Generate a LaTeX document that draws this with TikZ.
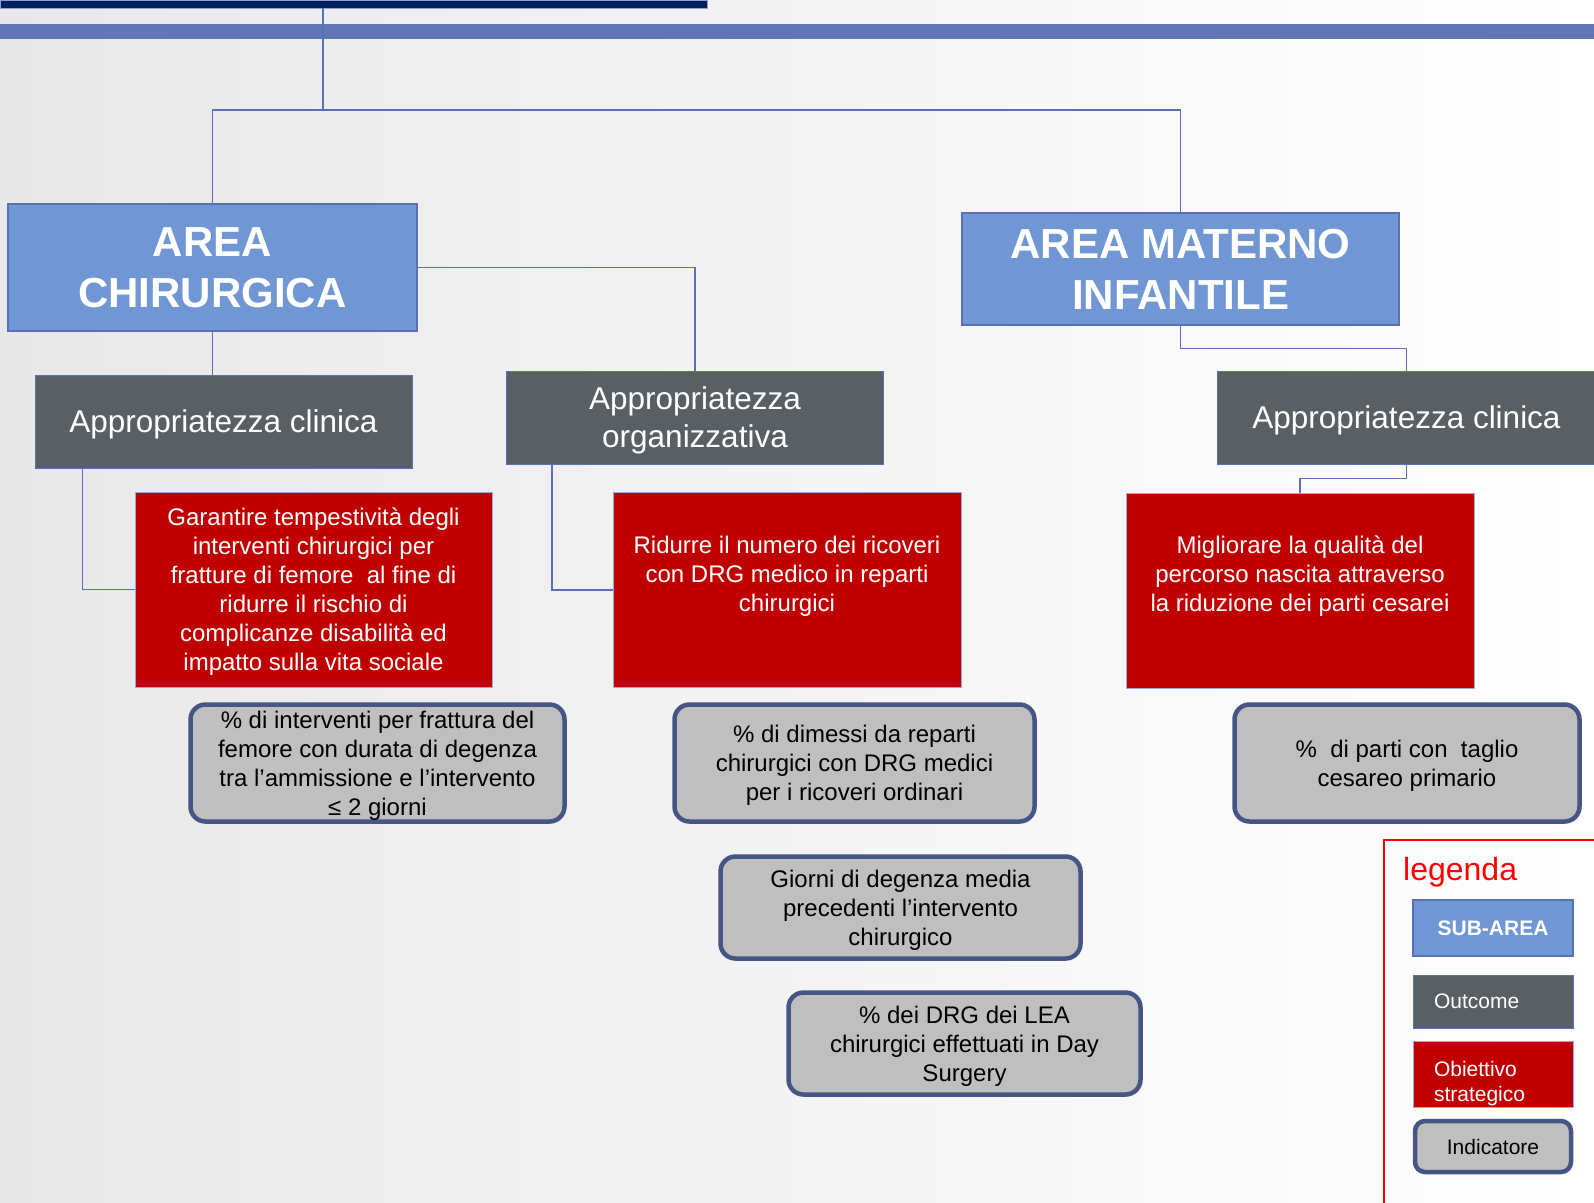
\documentclass[tikz,border=0pt]{standalone}
\usepackage{fontspec}
\setmainfont{Liberation Sans}
\usepackage{tikz}

\definecolor{areablue}{RGB}{112,151,212}
\definecolor{lineblue}{RGB}{86,113,183}
\definecolor{outgray}{RGB}{89,95,99}
\definecolor{objred}{RGB}{192,0,0}
\definecolor{indgray}{RGB}{191,191,191}
\definecolor{indborder}{RGB}{70,86,132}
\definecolor{navy}{RGB}{0,32,96}
\definecolor{band}{RGB}{97,118,180}

\begin{document}
\begin{tikzpicture}[x=1pt,y=-1pt,
        subarea/.style={fill=areablue, draw=lineblue, line width=1.2pt, inner sep=0pt, align=center, text=white,
            font=\fontsize{42}{51}\selectfont\bfseries},
        outcome/.style={fill=outgray, draw=lineblue, line width=1pt, inner sep=0pt, align=center, text=white,
            text depth=0pt, font=\fontsize{31.5}{38}\selectfont},
        objective/.style={fill=objred, draw=lineblue!60, line width=1pt, inner sep=0pt, align=center, text=white,
            text depth=0pt, font=\fontsize{24}{29}\selectfont},
        indicator/.style={fill=indgray, draw=indborder, line width=4.5pt, rounded corners=15pt, inner sep=0pt,
            align=center, text=black, text depth=0pt, font=\fontsize{24}{29}\selectfont},
        small/.style={font=\fontsize{21}{25}\selectfont},
        conn/.style={draw=lineblue, line width=1.5pt}]
    \useasboundingbox (0,0) rectangle (1594,1202);
    % background
    \shade[left color=black!9, right color=white] (0,0) rectangle (1594,1202);
    \fill[band] (0,24) rectangle (1594,39);
    \node[fill=navy, draw=band!70, line width=0.8pt, minimum width=707pt, minimum height=8pt, inner sep=0pt] (bar) at (353.5,4) {};
    \coordinate (root) at (323,110);

    % sub-areas
    \node[subarea, minimum width=409pt, minimum height=127pt] (chir) at (212.5,267.5) {AREA\\CHIRURGICA};
    \node[subarea, minimum width=437pt, minimum height=112pt] (mat) at (1180.5,269) {AREA MATERNO\\INFANTILE};

    % outcomes
    \begin{scope}[every node/.style={outcome, minimum width=377pt, minimum height=93pt}]
        \node (clin1) at (223.5,421.5) {Appropriatezza clinica};
        \node (org) at (695,417.5) {Appropriatezza\\organizzativa};
        \node[minimum width=379pt] (clin2) at (1406.5,417.5) {Appropriatezza clinica};
    \end{scope}

    % strategic objectives
    \begin{scope}[every node/.style={objective, minimum width=348pt, minimum height=195pt}]
        \node[minimum width=357pt] (obj1) at (313.5,589.5) {Garantire tempestività degli\\interventi chirurgici per\\fratture di femore\ \ al fine di\\ridurre il rischio di\\complicanze disabilità ed\\impatto sulla vita sociale};
        \node (obj2) at (787,590) {Ridurre il numero dei ricoveri\\con DRG medico in reparti\\chirurgici\\[4pt]\strut};
        \node (obj3) at (1300,590.5) {Migliorare la qualità del\\percorso nascita attraverso\\la riduzione dei parti cesarei\\[4pt]\strut};
    \end{scope}

    % indicators
    \begin{scope}[every node/.style={indicator, minimum height=117pt}]
        \node[minimum width=374pt] (ind1) at (377.5,763) {\% di interventi per frattura del\\femore con durata di degenza\\tra l’ammissione e l’intervento\\≤ 2 giorni};
        \node[minimum width=360pt] (ind2) at (854.5,763) {\% di dimessi da reparti\\chirurgici con DRG medici\\per i ricoveri ordinari};
        \node[minimum width=345pt] (ind3) at (1407,763) {\%\ \ di parti con\ \ taglio\\cesareo primario};
        \node[minimum width=360pt, minimum height=102pt] (ind4) at (900.5,907.5) {Giorni di degenza media\\precedenti l’intervento\\chirurgico};
        \node[minimum width=352pt, minimum height=102pt] (ind5) at (964.5,1043.5) {\% dei DRG dei LEA\\chirurgici effettuati in Day\\Surgery};
    \end{scope}

    % connectors
    \begin{scope}[every path/.style={conn}]
        \path (bar.south -| root) edge (root);
        \draw (chir.north) |- (root) -| (mat.north);
        \draw (chir.east) -| (org.north);
        \path (chir.south) edge (clin1.north -| chir.south);
        \draw ([xshift=48pt]clin1.south west) |- (obj1.west);
        \draw ([xshift=46pt]org.south west) |- (obj2.west);
        \draw (mat.south) -- ++(0,23) -| (clin2.north);
        \draw (clin2.south) -- ++(0,14) -| (obj3.north);
    \end{scope}

    % legend
    \draw[red, line width=1.5pt] (1600,840) -- (1384,840) -- (1384,1210);
    \node[anchor=base west, inner sep=0pt, text=red, font=\fontsize{32}{38}\selectfont] (leg) at (1403,880) {legenda};
    \begin{scope}[every node/.style={minimum width=160pt}]
        \node[subarea, minimum height=56pt, font=\fontsize{21}{25}\selectfont\bfseries] (lsub) at (1493,928) {SUB-AREA};
        \node[outcome, small, minimum height=53pt, text width=118pt, inner xsep=21pt, align=left] (lout) at (1493,1001.5) {Outcome};
        \node[objective, small, minimum height=66pt, text width=118pt, inner xsep=21pt, align=left, text depth=10pt] (lobj) at (1493,1074) {Obiettivo\\strategico};
        \node[indicator, small, minimum width=156pt, minimum height=51pt, rounded corners=10pt] (lind) at (1493,1146.5) {Indicatore};
    \end{scope}
\end{tikzpicture}
\end{document}
